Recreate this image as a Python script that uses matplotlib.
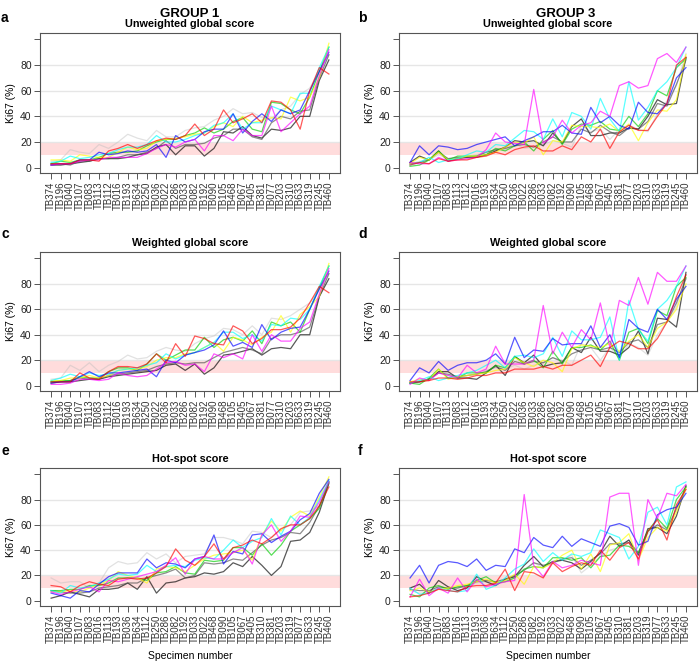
import matplotlib
matplotlib.use('Agg')
import matplotlib.pyplot as plt
import numpy as np

plt.rcParams['font.family'] = ['Liberation Sans', 'DejaVu Sans']

# specimen order on the x axis of each panel
labels_a = ["TB374", "TB196", "TB040", "TB107", "TB083", "TB113", "TB112", "TB016", "TB193", "TB634",
            "TB250", "TB036", "TB022", "TB286", "TB033", "TB082", "TB192", "TB090", "TB105", "TB468",
            "TB067", "TB405", "TB381", "TB077", "TB203", "TB310", "TB633", "TB319", "TB245", "TB460"]
labels_c = ["TB374", "TB196", "TB040", "TB107", "TB113", "TB083", "TB112", "TB016", "TB193", "TB634",
            "TB250", "TB022", "TB036", "TB033", "TB286", "TB082", "TB192", "TB090", "TB468", "TB105",
            "TB405", "TB067", "TB381", "TB077", "TB310", "TB203", "TB633", "TB319", "TB245", "TB460"]
labels_e = ["TB374", "TB196", "TB040", "TB107", "TB083", "TB016", "TB113", "TB193", "TB036", "TB634",
            "TB112", "TB250", "TB286", "TB082", "TB192", "TB033", "TB022", "TB468", "TB090", "TB105",
            "TB067", "TB405", "TB310", "TB381", "TB203", "TB319", "TB077", "TB633", "TB245", "TB460"]

# observer colours (R palette, drawn semi transparent)
observer_colors = ["#BEBEBE", "#000000", "#505050", "#00CD00", "#FFFF00",
                   "#00FFFF", "#0000FF", "#FF00FF", "#FF0000"]

# rows follow observer_colors: lightgray, black, dimgray, green, yellow, cyan, blue, magenta, red
ki67_a = [
    [5, 6, 14, 12, 11, 18, 15, 20, 26, 23, 21, 29, 24, 24, 29, 31, 32, 37, 40, 46, 42, 43, 39, 38, 45, 48, 57, 62, 75, 88],
    [2, 2, 3, 4, 5, 7, 7, 7, 8, 10, 11, 16, 18, 10, 17, 17, 9, 15, 28, 27, 32, 25, 23, 30, 29, 31, 40, 40, 68, 84],
    [3, 3, 2, 5, 5, 7, 7, 8, 10, 10, 12, 15, 21, 15, 18, 18, 19, 23, 25, 30, 30, 24, 22, 35, 40, 38, 44, 45, 70, 88],
    [3, 5, 4, 6, 6, 8, 11, 12, 12, 13, 17, 20, 22, 22, 25, 27, 31, 27, 30, 36, 39, 30, 28, 51, 50, 45, 42, 55, 75, 94],
    [6, 6, 5, 10, 9, 8, 8, 12, 16, 14, 15, 21, 22, 23, 24, 26, 27, 32, 35, 32, 40, 35, 37, 39, 38, 55, 52, 55, 70, 97],
    [4, 5, 9, 7, 8, 10, 11, 14, 16, 16, 18, 25, 20, 20, 22, 25, 27, 33, 35, 42, 30, 35, 35, 48, 45, 42, 58, 58, 78, 94],
    [2, 3, 3, 6, 6, 12, 10, 11, 13, 12, 13, 18, 8, 25, 20, 22, 28, 30, 30, 42, 27, 36, 42, 36, 45, 42, 45, 60, 75, 90],
    [2, 3, 3, 5, 6, 6, 8, 8, 8, 8, 11, 15, 18, 16, 20, 22, 13, 25, 25, 21, 30, 25, 25, 48, 28, 35, 42, 48, 72, 92],
    [3, 3, 3, 6, 6, 5, 13, 15, 18, 15, 18, 21, 23, 22, 25, 34, 25, 30, 45, 35, 38, 42, 35, 52, 51, 45, 30, 60, 78, 73],
]
ki67_b = [
    [3, 5, 6, 10, 7, 7, 9, 10, 12, 14, 14, 19, 15, 16, 18, 21, 19, 16, 33, 28, 30, 22, 30, 33, 30, 28, 42, 52, 64, 89],
    [4, 9, 6, 13, 5, 7, 8, 8, 10, 13, 16, 21, 20, 21, 17, 27, 19, 32, 38, 25, 25, 27, 27, 31, 30, 40, 53, 49, 50, 86],
    [3, 4, 6, 12, 7, 8, 8, 9, 12, 14, 15, 17, 18, 16, 20, 24, 20, 20, 30, 27, 33, 28, 25, 31, 30, 36, 50, 48, 65, 84],
    [1, 2, 6, 13, 6, 9, 9, 9, 10, 15, 13, 17, 20, 13, 22, 29, 18, 30, 34, 33, 36, 30, 29, 40, 32, 42, 60, 56, 78, 85],
    [3, 8, 6, 12, 6, 7, 9, 9, 10, 12, 16, 20, 19, 24, 10, 21, 20, 33, 32, 32, 31, 34, 28, 34, 21, 35, 45, 44, 53, 88],
    [2, 4, 8, 4, 6, 7, 10, 13, 12, 18, 17, 23, 29, 28, 22, 38, 24, 43, 40, 30, 54, 38, 28, 67, 37, 47, 60, 67, 78, 94],
    [4, 17, 10, 17, 16, 14, 15, 18, 20, 22, 24, 17, 21, 24, 28, 28, 33, 27, 26, 47, 35, 40, 33, 30, 51, 43, 42, 50, 70, 78],
    [4, 3, 3, 8, 5, 6, 7, 8, 14, 27, 20, 19, 18, 61, 19, 24, 37, 27, 33, 35, 44, 40, 64, 67, 62, 64, 85, 89, 82, 94],
    [2, 4, 3, 7, 5, 6, 6, 8, 9, 12, 10, 14, 16, 17, 13, 13, 17, 14, 24, 20, 30, 15, 28, 33, 29, 29, 40, 50, 80, 86],
]
ki67_c = [
    [5, 6, 16, 12, 18, 11, 16, 19, 24, 21, 22, 27, 30, 28, 27, 33, 37, 39, 45, 44, 40, 47, 40, 53, 52, 55, 60, 65, 75, 88],
    [2, 3, 3, 4, 5, 5, 7, 8, 9, 10, 11, 12, 16, 17, 12, 17, 9, 14, 24, 25, 27, 29, 24, 29, 30, 29, 40, 40, 70, 84],
    [3, 3, 4, 6, 5, 5, 8, 9, 10, 11, 12, 15, 17, 18, 17, 18, 18, 22, 26, 28, 30, 28, 25, 37, 40, 40, 42, 46, 70, 88],
    [3, 4, 4, 7, 6, 6, 11, 14, 14, 12, 17, 25, 20, 24, 28, 28, 38, 30, 36, 38, 35, 43, 33, 50, 47, 50, 42, 60, 77, 94],
    [4, 4, 6, 6, 8, 6, 8, 12, 13, 13, 15, 20, 22, 22, 25, 26, 30, 34, 27, 38, 36, 32, 38, 42, 55, 42, 56, 62, 70, 96],
    [4, 6, 9, 7, 10, 8, 9, 12, 13, 14, 16, 18, 25, 21, 24, 26, 30, 34, 42, 42, 37, 40, 35, 48, 47, 53, 52, 60, 78, 94],
    [2, 3, 3, 7, 11, 7, 10, 10, 11, 12, 13, 7, 20, 18, 24, 26, 28, 32, 43, 31, 34, 30, 48, 36, 42, 45, 46, 60, 76, 90],
    [1, 1, 2, 5, 5, 4, 5, 10, 8, 7, 8, 13, 18, 19, 16, 17, 11, 25, 22, 25, 21, 40, 27, 40, 35, 35, 45, 50, 72, 92],
    [3, 3, 3, 10, 6, 5, 11, 15, 15, 14, 17, 25, 18, 33, 23, 39, 37, 33, 32, 47, 43, 33, 37, 44, 44, 46, 53, 65, 78, 73],
]
ki67_d = [
    [2, 4, 5, 10, 8, 6, 8, 9, 12, 14, 13, 16, 13, 16, 18, 22, 20, 16, 33, 30, 20, 30, 22, 33, 30, 24, 40, 50, 62, 87],
    [2, 3, 5, 11, 11, 6, 6, 5, 10, 16, 8, 23, 18, 24, 15, 17, 18, 30, 26, 38, 27, 27, 24, 30, 43, 25, 53, 52, 46, 89],
    [2, 3, 5, 10, 9, 7, 8, 9, 11, 15, 12, 19, 17, 19, 18, 22, 19, 25, 28, 30, 28, 30, 26, 34, 36, 30, 48, 50, 65, 84],
    [2, 1, 6, 13, 6, 6, 10, 10, 10, 16, 14, 23, 17, 20, 14, 27, 17, 30, 30, 32, 28, 35, 20, 42, 45, 33, 59, 55, 78, 85],
    [3, 5, 4, 13, 5, 7, 8, 9, 10, 12, 13, 22, 18, 15, 20, 18, 11, 29, 32, 31, 30, 33, 27, 35, 40, 30, 45, 50, 60, 80],
    [2, 4, 7, 4, 6, 8, 10, 12, 16, 20, 14, 23, 24, 22, 25, 38, 23, 43, 36, 36, 38, 54, 20, 67, 44, 35, 60, 67, 78, 94],
    [4, 14, 10, 19, 12, 16, 18, 18, 20, 25, 17, 38, 22, 28, 27, 37, 32, 33, 33, 47, 30, 40, 22, 52, 45, 42, 60, 52, 68, 78],
    [1, 6, 4, 10, 8, 6, 16, 10, 13, 31, 17, 17, 17, 20, 63, 25, 42, 30, 44, 36, 65, 30, 67, 63, 85, 64, 89, 82, 82, 94],
    [3, 3, 4, 6, 6, 5, 6, 8, 8, 10, 10, 13, 13, 13, 15, 13, 16, 16, 20, 24, 15, 30, 35, 33, 29, 29, 37, 50, 70, 87],
]
ki67_e = [
    [18, 14, 15, 15, 10, 14, 26, 31, 29, 30, 38, 33, 37, 30, 35, 36, 37, 50, 50, 48, 45, 55, 54, 50, 56, 60, 70, 71, 75, 92],
    [2, 4, 7, 5, 3, 9, 9, 10, 14, 9, 19, 6, 14, 15, 18, 19, 22, 21, 23, 30, 27, 35, 28, 20, 27, 47, 48, 54, 70, 93],
    [8, 7, 6, 6, 7, 10, 11, 12, 14, 14, 18, 20, 22, 25, 18, 20, 30, 29, 30, 33, 32, 38, 44, 48, 50, 54, 53, 62, 75, 94],
    [8, 8, 9, 9, 12, 12, 14, 18, 18, 18, 16, 22, 23, 27, 22, 21, 32, 31, 32, 42, 42, 36, 45, 36, 44, 55, 60, 65, 73, 94],
    [7, 7, 8, 7, 10, 13, 16, 23, 20, 18, 14, 25, 27, 26, 23, 28, 33, 36, 37, 38, 40, 32, 52, 63, 55, 66, 71, 67, 82, 98],
    [8, 6, 12, 10, 11, 14, 17, 21, 20, 21, 28, 23, 27, 28, 27, 32, 34, 33, 40, 48, 42, 47, 50, 65, 52, 67, 60, 66, 80, 95],
    [6, 4, 2, 8, 7, 13, 19, 22, 22, 22, 33, 26, 30, 29, 26, 33, 35, 52, 29, 39, 37, 52, 53, 46, 51, 55, 64, 69, 85, 96],
    [7, 5, 7, 9, 11, 7, 16, 15, 17, 19, 21, 23, 28, 34, 21, 33, 35, 33, 33, 38, 42, 29, 52, 60, 47, 55, 67, 66, 78, 94],
    [12, 11, 7, 12, 15, 13, 12, 17, 18, 17, 18, 22, 27, 41, 32, 28, 35, 45, 33, 42, 44, 48, 45, 50, 57, 60, 60, 65, 75, 90],
]
ki67_f = [
    [8, 6, 7, 10, 10, 10, 11, 14, 15, 14, 16, 19, 25, 30, 26, 30, 32, 36, 22, 28, 35, 40, 42, 48, 37, 53, 60, 58, 72, 88],
    [10, 13, 6, 16, 11, 8, 10, 19, 15, 12, 17, 19, 28, 35, 27, 31, 32, 30, 25, 31, 38, 51, 43, 48, 36, 57, 58, 53, 67, 91],
    [9, 8, 8, 11, 10, 10, 12, 15, 16, 15, 17, 20, 24, 30, 28, 30, 33, 34, 28, 32, 37, 45, 45, 46, 38, 55, 60, 56, 73, 90],
    [5, 3, 10, 12, 9, 11, 12, 16, 19, 14, 15, 18, 25, 27, 26, 34, 34, 32, 34, 26, 35, 36, 44, 43, 38, 55, 65, 57, 80, 90],
    [8, 10, 7, 9, 10, 12, 13, 15, 17, 14, 16, 21, 13, 27, 26, 30, 36, 40, 25, 37, 23, 44, 46, 53, 32, 50, 58, 55, 70, 89],
    [10, 5, 6, 10, 8, 7, 8, 21, 9, 12, 18, 25, 29, 41, 31, 38, 32, 37, 35, 38, 56, 53, 50, 33, 43, 70, 74, 60, 90, 94],
    [18, 28, 14, 28, 31, 30, 27, 33, 24, 28, 27, 41, 38, 50, 44, 42, 51, 43, 49, 46, 43, 59, 61, 58, 44, 47, 68, 72, 74, 85],
    [3, 17, 4, 10, 6, 18, 7, 17, 11, 13, 15, 16, 84, 28, 19, 31, 26, 28, 32, 30, 28, 82, 85, 85, 28, 80, 65, 85, 83, 92],
    [3, 4, 6, 9, 8, 7, 11, 12, 12, 14, 25, 8, 23, 22, 18, 30, 23, 27, 30, 28, 40, 32, 42, 46, 33, 55, 64, 48, 76, 88],
]

panels = [
    ("a", "Unweighted global score", labels_a, ki67_a),
    ("b", "Unweighted global score", labels_a, ki67_b),
    ("c", "Weighted global score", labels_c, ki67_c),
    ("d", "Weighted global score", labels_c, ki67_d),
    ("e", "Hot-spot score", labels_e, ki67_e),
    ("f", "Hot-spot score", labels_e, ki67_f),
]

W, H = 700, 664
fig = plt.figure(figsize=(W / 100, H / 100), dpi=100)

# axes boxes in pixels: (left, right) and (top, bottom)
col_x = [(40, 340), (399, 697)]
row_y = [(33, 173), (252, 391), (468, 606)]
letter_y = [18, 234, 451]

frame_col = "#555555"

for k, (letter, title, labels, rows) in enumerate(panels):
    r, c = k // 2, k % 2
    x0, x1 = col_x[c]
    y0, y1 = row_y[r]
    ax = fig.add_axes([x0 / W, 1 - y1 / H, (x1 - x0) / W, (y1 - y0) / H])

    x = np.arange(1, len(labels) + 1)
    ax.axhspan(10, 20, color="#FFDCDC", lw=0, zorder=0)
    for g in [20, 40, 60, 80]:
        ax.axhline(g, color="#E6E6E6", lw=1.0, zorder=0.5)
    for vals, col in zip(rows, observer_colors):
        a = 0.45 if col == "#BEBEBE" else 0.65
        ax.plot(x, vals, color=col, lw=0.9, alpha=a, zorder=2)

    ax.set_xlim(1 - 1.16, len(labels) + 1.16)
    ax.set_ylim(-4.2, 105)
    ax.set_yticks([0, 20, 40, 60, 80, 100])
    ax.set_yticklabels(["0", "20", "40", "60", "80", ""], fontsize=7.5, color="#222222")
    ax.set_xticks(x)
    ax.set_xticklabels(labels, rotation=90, fontsize=7.0, color="#333333")
    ax.tick_params(axis="both", length=4, width=0.7, color=frame_col, pad=2)
    for s in ax.spines.values():
        s.set_color(frame_col)
        s.set_linewidth(0.8)
    ax.set_ylabel("Ki67 (%)", fontsize=7.5, labelpad=3)
    ax.set_title(title, fontsize=7.8, fontweight="bold", pad=4)
    if r == 2:
        ax.set_xlabel("Specimen number", fontsize=7.5, labelpad=6)

    fig.text((1 if c == 0 else 358) / W, 1 - letter_y[r] / H, letter,
             fontsize=10, fontweight="bold", ha="left", va="center")

fig.text(190 / W, 1 - 14 / H, "GROUP 1", fontsize=9.5, fontweight="bold", ha="center", va="center")
fig.text(566 / W, 1 - 14 / H, "GROUP 3", fontsize=9.5, fontweight="bold", ha="center", va="center")

fig.savefig("out.png", dpi=100)
